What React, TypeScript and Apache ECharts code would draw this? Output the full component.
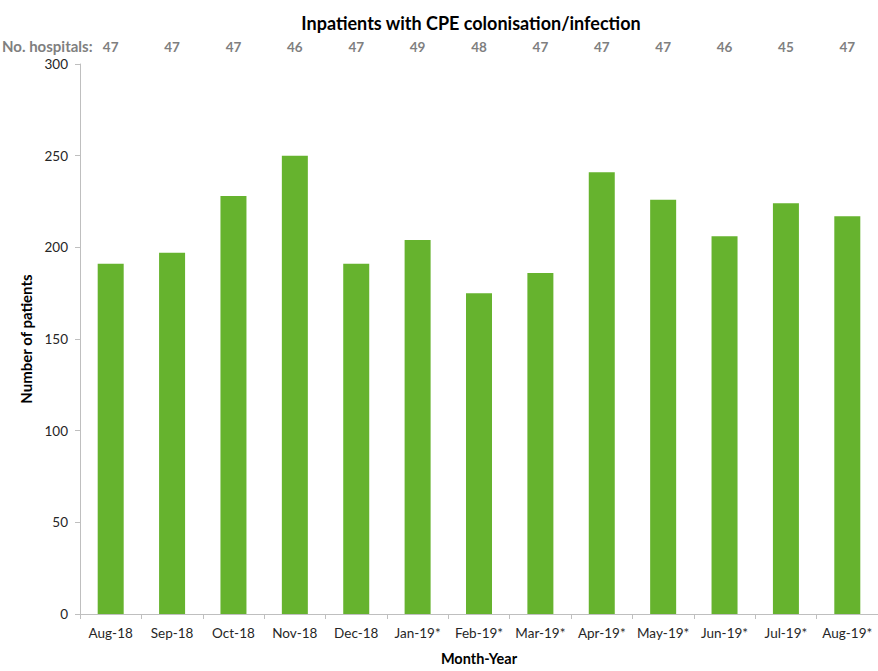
import React, { useEffect, useRef } from "react";
import * as echarts from "echarts";

const months = ["Aug-18", "Sep-18", "Oct-18", "Nov-18", "Dec-18", "Jan-19*", "Feb-19*", "Mar-19*", "Apr-19*", "May-19*", "Jun-19*", "Jul-19*", "Aug-19*"];
const patients = [191, 197, 228, 250, 191, 204, 175, 186, 241, 226, 206, 224, 217];
const hospitals = ["47", "47", "47", "46", "47", "49", "48", "47", "47", "47", "46", "45", "47"];

const FONT = "Lato, 'Open Sans', sans-serif";

export default function App() {
  const ref = useRef<HTMLDivElement>(null);
  useEffect(() => {
    if (!ref.current) return;
    const chart = echarts.init(ref.current, null, { renderer: "svg" });
    chart.setOption({
      animation: false,
      textStyle: { fontFamily: FONT },
      title: {
        text: "Inpatients with CPE colonisation/infection",
        left: 466,
        top: 9,
        textAlign: "center",
        textStyle: { fontFamily: FONT, fontWeight: "bold", fontSize: 18, color: "#000" },
      },
      graphic: [
        {
          type: "text",
          left: 2,
          top: 38,
          style: { text: "No. hospitals:", fill: "#7f7f7f", font: `bold 15px ${FONT}` },
        },
      ],
      grid: { left: 80, right: -8, top: 64, bottom: 50 },
      xAxis: [
        {
          type: "category",
          data: months,
          position: "bottom",
          name: "Month-Year",
          nameLocation: "middle",
          nameGap: 37,
          nameTextStyle: { fontFamily: FONT, fontWeight: "bold", fontSize: 14.5, color: "#000" },
          axisLine: { lineStyle: { color: "#bfbfbf" } },
          axisTick: { show: true, alignWithLabel: false, length: 5, lineStyle: { color: "#bfbfbf" } },
          axisLabel: { color: "#262626", fontSize: 13.5, margin: 12, interval: 0, fontFamily: FONT },
        },
        {
          type: "category",
          data: hospitals,
          position: "top",
          axisLine: { show: false },
          axisTick: { show: false },
          axisLabel: { color: "#7f7f7f", fontWeight: "bold", fontSize: 13.5, margin: 10, interval: 0, fontFamily: FONT },
        },
      ],
      yAxis: {
        type: "value",
        min: 0,
        max: 300,
        interval: 50,
        name: "Number of patients",
        nameLocation: "middle",
        nameGap: 45,
        nameRotate: 90,
        nameTextStyle: { fontFamily: FONT, fontWeight: "bold", fontSize: 15, color: "#000" },
        axisLine: { show: true, lineStyle: { color: "#bfbfbf" } },
        axisTick: { show: true, length: 5, lineStyle: { color: "#bfbfbf" } },
        axisLabel: { color: "#262626", fontSize: 13.5, margin: 12, fontFamily: FONT },
        splitLine: { show: false },
      },
      series: [
        {
          type: "bar",
          data: patients,
          xAxisIndex: 0,
          barWidth: 26,
          itemStyle: { color: "#66b32e" },
        },
      ],
    });
    return () => chart.dispose();
  }, []);
  return <div ref={ref} style={{ width: 878, height: 671, position: "absolute", left: 0, top: 0 }} />;
}
